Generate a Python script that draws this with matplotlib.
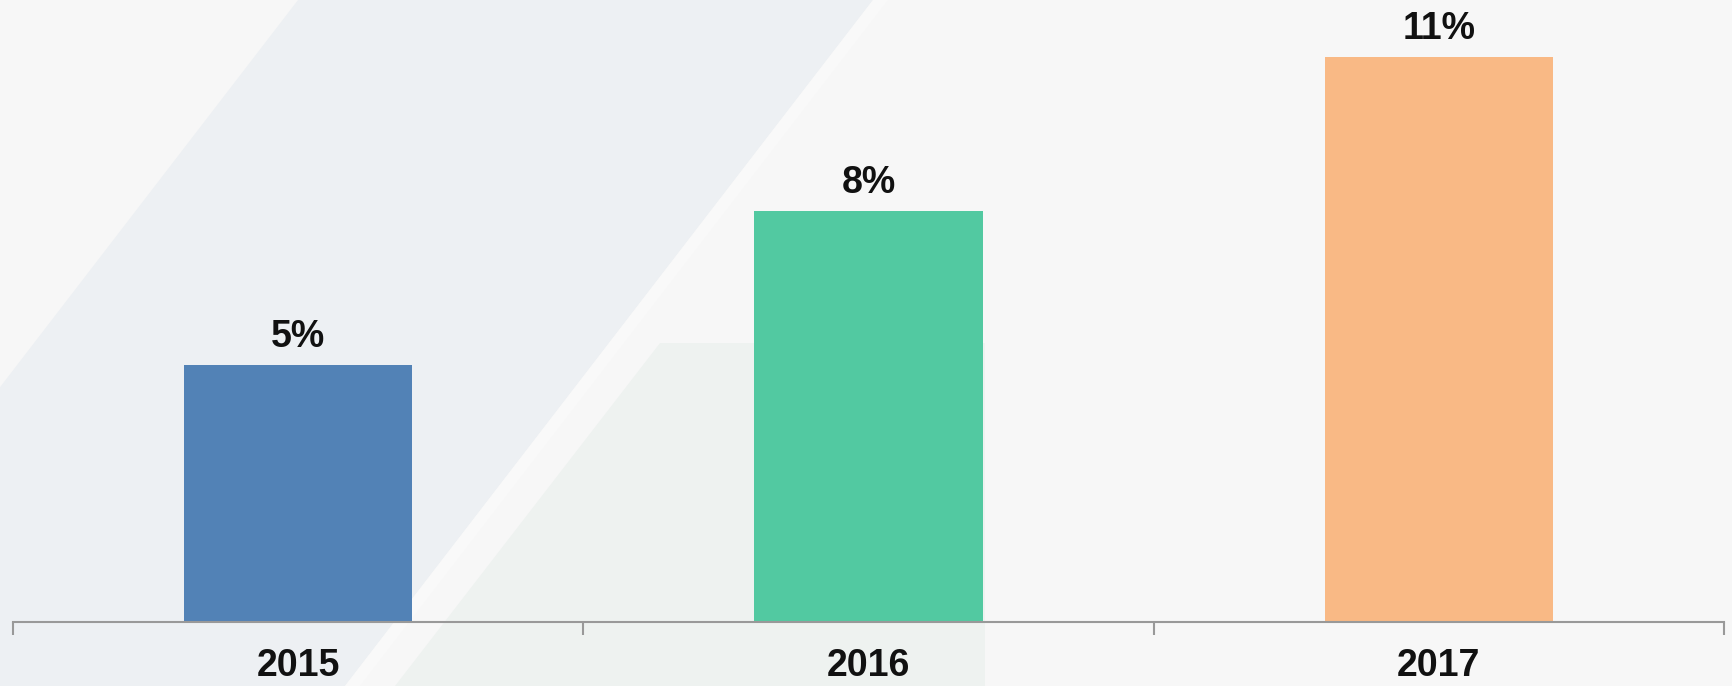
import numpy as np
import matplotlib.pyplot as plt
from matplotlib.patches import Polygon

years = ["2015", "2016", "2017"]
values = [5, 8, 11]
colors = ["#5282B6", "#52C9A1", "#F9B985"]

plt.rcParams['font.family'] = ['Liberation Sans', 'DejaVu Sans']

fig = plt.figure(figsize=(17.33, 6.86), dpi=100, facecolor="#f7f7f7")

# decorative background bands (figure coords, pixels -> fraction)
W, H = 1733, 686
def px(pts):
    return [(x / W, 1 - y / H) for x, y in pts]

bg = fig.add_axes([0, 0, 1, 1], zorder=-1)
bg.set_axis_off()
bg.set_xlim(0, 1)
bg.set_ylim(0, 1)
bg.add_patch(Polygon(px([(298, 0), (873, 0), (345, 686), (-230, 686)]),
                     closed=True, facecolor="#edf0f3", edgecolor="none"))
bg.add_patch(Polygon(px([(660, 343), (985, 343), (985, 686), (395, 686)]),
                     closed=True, facecolor="#eef2f0", edgecolor="none"))
bg.add_patch(Polygon(px([(873, 0), (888, 0), (360, 686), (345, 686)]),
                     closed=True, facecolor="#f9f9f9", edgecolor="none"))

ax = fig.add_axes([13 / W, 64 / H, 1711 / W, 622 / H])
ax.patch.set_alpha(0)

x = np.arange(len(years))
ax.bar(x, values, width=0.4, color=colors, zorder=2)

for i, v in enumerate(values):
    ax.annotate(f"{v}%", xy=(i, v), xytext=(0, 13.5), textcoords="offset points",
                ha="center", va="baseline", fontsize=27, fontweight="bold", color="#111111")

ax.set_xlim(-0.5, 2.5)
ax.set_ylim(0, 12.12)

for s in ["top", "right", "left"]:
    ax.spines[s].set_visible(False)
ax.spines["bottom"].set_color("#999999")
ax.spines["bottom"].set_linewidth(1.5)

ax.set_yticks([])
ax.set_xticks([-0.5, 0.5, 1.5, 2.5])
ax.set_xticklabels([])
ax.tick_params(axis="x", which="major", length=9, width=1.5, color="#999999", direction="out")
ax.set_xticks(x, minor=True)
ax.set_xticklabels(years, minor=True, fontsize=27, fontweight="bold", color="#111111")
ax.tick_params(axis="x", which="minor", length=0, pad=19)

plt.savefig("out.png", dpi=100, facecolor=fig.get_facecolor())
